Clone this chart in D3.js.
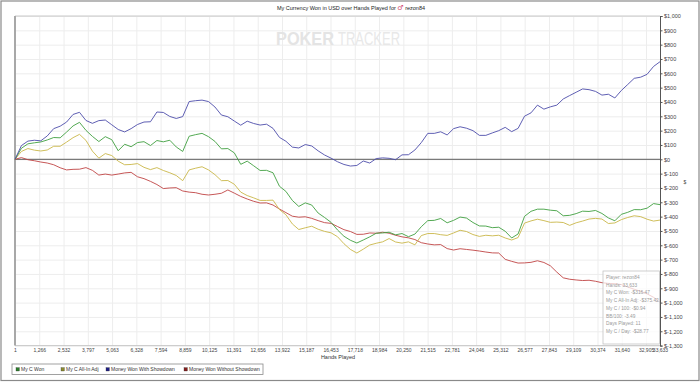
<!DOCTYPE html>
<html>
<head>
<meta charset="utf-8">
<script src="https://cdn.jsdelivr.net/npm/d3@7"></script>
<style>
  body { margin: 0; background: #fff; }
  svg text { font-family: "Liberation Sans", Arial, sans-serif; }
</style>
</head>
<body>
<svg id="chart" width="700" height="382"></svg>
<script>
// hands played (x values)
const hands = [
  1, 337, 674, 1010, 1346, 1683, 2019, 2355, 2692, 3028,
  3364, 3701, 4037, 4373, 4709, 5046, 5382, 5718, 6055, 6391,
  6727, 7064, 7400, 7736, 8073, 8409, 8745, 9082, 9418, 9754,
  10091, 10427, 10763, 11100, 11436, 11772, 12109, 12445, 12781, 13117,
  13454, 13790, 14126, 14463, 14799, 15135, 15472, 15808, 16144, 16481,
  16817, 17153, 17490, 17826, 18162, 18499, 18835, 19171, 19508, 19844,
  20180, 20517, 20853, 21189, 21525, 21862, 22198, 22534, 22871, 23207,
  23543, 23880, 24216, 24552, 24889, 25225, 25561, 25898, 26234, 26570,
  26906, 27243, 27579, 27915, 28252, 28588, 28924, 29261, 29597, 29933,
  30270, 30606, 30942, 31279, 31615, 31951, 32288, 32624, 32960, 33297,
  33633
];

// USD won
const myCWon = [
  0, 77, 108, 115, 121, 135, 152, 150, 190, 233,
  258, 202, 160, 124, 158, 137, 60, 105, 88, 117,
  123, 96, 131, 122, 133, 86, 55, 161, 172, 181,
  158, 125, 73, 75, 45, -35, -13, -45, -78, -77,
  -94, -188, -224, -287, -329, -304, -319, -375, -406, -440,
  -493, -537, -565, -584, -563, -541, -516, -514, -509, -527,
  -518, -540, -522, -470, -428, -426, -413, -443, -426, -403,
  -410, -441, -465, -466, -477, -474, -502, -549, -521, -398,
  -363, -348, -348, -355, -359, -394, -391, -379, -362, -364,
  -357, -378, -409, -429, -384, -370, -351, -352, -341, -309,
  -316.47
];

const allInAdj = [
  0, 55, 75, 64, 58, 65, 91, 91, 120, 151,
  174, 132, 57, 8, 40, 26, -13, -38, -36, -30,
  -56, -72, -58, -78, -94, -113, -149, -74, -62, -52,
  -74, -107, -149, -148, -174, -229, -253, -269, -287, -287,
  -285, -351, -387, -451, -490, -478, -467, -488, -503, -513,
  -540, -589, -629, -654, -627, -598, -586, -576, -553, -577,
  -585, -576, -597, -532, -518, -518, -526, -531, -514, -495,
  -504, -525, -538, -530, -534, -530, -549, -563, -546, -445,
  -430, -418, -428, -440, -438, -441, -461, -443, -431, -417,
  -412, -417, -448, -444, -421, -406, -394, -400, -418, -431,
  -424
];

const withShowdown = [
  0, 96, 127, 133, 129, 163, 214, 231, 260, 313,
  328, 271, 251, 270, 274, 241, 208, 191, 214, 243,
  260, 262, 330, 327, 299, 285, 298, 403, 409, 413,
  403, 365, 309, 297, 267, 238, 266, 250, 239, 245,
  216, 153, 126, 85, 79, 103, 93, 59, 30, 8,
  -17, -36, -47, -43, -12, -26, 5, 10, 7, -3,
  31, 32, 65, 117, 181, 181, 192, 170, 214, 227,
  217, 200, 167, 167, 184, 200, 223, 193, 216, 301,
  324, 378, 350, 366, 378, 421, 445, 468, 491, 486,
  474, 448, 454, 428, 480, 522, 565, 573, 593, 648,
  681
];

const withoutShowdown = [
  0, 12, -3, -10, -19, -26, -38, -59, -74, -70,
  -69, -58, -77, -110, -103, -110, -103, -95, -91, -122,
  -135, -154, -176, -204, -200, -198, -221, -229, -233, -244,
  -249, -244, -237, -214, -236, -259, -277, -293, -305, -304,
  -319, -347, -372, -397, -404, -401, -412, -428, -442, -447,
  -469, -491, -504, -524, -523, -514, -516, -509, -516, -530,
  -541, -548, -560, -582, -591, -597, -595, -623, -633, -624,
  -629, -634, -640, -647, -653, -654, -698, -712, -724, -723,
  -719, -708, -720, -743, -787, -827, -837, -842, -846, -844,
  -851, -861, -866, -868, -874, -891, -907, -921, -939, -963,
  -997
];

const xTicks = [1, 1266, 2532, 3797, 5063, 6328, 7594, 8859, 10125, 11391,
  12656, 13922, 15187, 16453, 17718, 18984, 20250, 21515, 22781, 24046,
  25312, 26577, 27843, 29109, 30374, 31640, 32905, 33633];
const yTicks = [1000, 900, 800, 700, 600, 500, 400, 300, 200, 100, 0,
  -100, -200, -300, -400, -500, -600, -700, -800, -900, -1000, -1100, -1200, -1300];

const legendNames = ['My C Won', 'My C All-In Adj', 'Money Won With Showdown', 'Money Won Without Showdown'];
const tooltipLines = ['Player: rezon84', 'Hands: 33,633', 'My C Won: -$316.47', 'My C All-In Adj: -$375.42',
  'My C / 100: -$0.94', 'BB/100: -3.49', 'Days Played: 11', 'My C / Day: -$28.77'];

const plot = { left: 15, right: 660, top: 16, bottom: 345.6 };
const svg = d3.select('#chart');

// outer frame
svg.append('rect')
  .attr('x', 1).attr('y', 1).attr('width', 698).attr('height', 379.5)
  .attr('fill', '#fff').attr('stroke', '#8a8a8a').attr('stroke-width', 1.2);

const x = d3.scaleLinear().domain([1, 33633]).range([plot.left, plot.right]);
const y = d3.scaleLinear().domain([-1300, 1000]).range([plot.bottom, plot.top]);

// grid
svg.append('g')
  .attr('transform', `translate(0,${plot.bottom})`)
  .call(d3.axisBottom(x).tickValues(xTicks.slice(1, -1)).tickSize(-(plot.bottom - plot.top)).tickFormat(''))
  .call(g => g.select('.domain').remove())
  .call(g => g.selectAll('line').attr('stroke', '#ededed'));
svg.append('g')
  .attr('transform', `translate(${plot.left},0)`)
  .call(d3.axisLeft(y).tickValues(yTicks).tickSize(-(plot.right - plot.left)).tickFormat(''))
  .call(g => g.select('.domain').remove())
  .call(g => g.selectAll('line').attr('stroke', '#ededed'));

// watermark
svg.append('text').attr('x', 276).attr('y', 45).attr('font-size', 18).attr('font-weight', 'bold')
  .attr('fill', '#e4e4e4').attr('textLength', 58).attr('lengthAdjust', 'spacingAndGlyphs').text('POKER');
svg.append('text').attr('x', 338).attr('y', 45).attr('font-size', 18)
  .attr('fill', '#e8e8e8').attr('textLength', 62).attr('lengthAdjust', 'spacingAndGlyphs').text('TRACKER');

// plot borders
svg.append('line').attr('x1', plot.left).attr('x2', plot.right).attr('y1', plot.top).attr('y2', plot.top)
  .attr('stroke', '#c8c8c8').attr('stroke-width', 1);
svg.append('line').attr('x1', plot.left).attr('x2', plot.right).attr('y1', plot.bottom).attr('y2', plot.bottom)
  .attr('stroke', '#c8c8c8').attr('stroke-width', 1);
svg.append('line').attr('x1', plot.left).attr('x2', plot.left).attr('y1', plot.top).attr('y2', plot.bottom)
  .attr('stroke', '#a8a8a8').attr('stroke-width', 2);

// zero line
svg.append('line').attr('x1', plot.left).attr('x2', plot.right).attr('y1', y(0)).attr('y2', y(0))
  .attr('stroke', '#7a7a7a').attr('stroke-width', 1.2);

// series
const line = d3.line().x((d, i) => x(hands[i])).y(d => y(d));
const series = [
  { values: withoutShowdown, color: '#c04444' },
  { values: allInAdj, color: '#c9b748' },
  { values: myCWon, color: '#3f9f3f' },
  { values: withShowdown, color: '#4d4daa' }
];
svg.append('g').selectAll('path').data(series).enter().append('path')
  .attr('d', d => line(d.values))
  .attr('fill', 'none')
  .attr('stroke', d => d.color)
  .attr('stroke-width', 0.9);

// y axis on the right
const yAxis = svg.append('g')
  .attr('transform', `translate(${plot.right},0)`)
  .call(d3.axisRight(y).tickValues(yTicks).tickSize(2.5).tickPadding(1.5)
    .tickFormat(d => '$' + (d < 0 ? '-' : '') + d3.format(',')(Math.abs(d))));
yAxis.select('.domain').attr('stroke', '#555');
yAxis.selectAll('line').attr('stroke', '#555');
yAxis.selectAll('text').attr('font-size', 5.5).attr('fill', '#444').attr('font-family', '"Liberation Sans", Arial, sans-serif');

// x axis labels
const xAxis = svg.append('g')
  .attr('transform', `translate(0,${plot.bottom})`)
  .call(d3.axisBottom(x).tickValues(xTicks).tickSize(0).tickPadding(3).tickFormat(d3.format(',')));
xAxis.select('.domain').remove();
xAxis.selectAll('text').attr('font-size', 5).attr('fill', '#444').attr('font-family', '"Liberation Sans", Arial, sans-serif');

// titles
const title = svg.append('text').attr('x', 351).attr('y', 10).attr('text-anchor', 'middle')
  .attr('font-size', 5.5).attr('fill', '#222');
title.append('tspan').text('My Currency Won in USD over Hands Played for ');
title.append('tspan').attr('fill', '#d0406a').attr('font-size', 7).attr('font-family', '"DejaVu Sans", sans-serif').text('♂');
title.append('tspan').text(' rezon84');

svg.append('text').attr('x', 338).attr('y', 359).attr('text-anchor', 'middle')
  .attr('font-size', 5.5).attr('fill', '#333').text('Hands Played');
svg.append('text').attr('x', 685).attr('y', 184).attr('text-anchor', 'middle')
  .attr('font-size', 5).attr('fill', '#444').text('$');

// tooltip
svg.append('rect').attr('x', 603).attr('y', 271).attr('width', 56.5).attr('height', 73)
  .attr('fill', '#fff').attr('fill-opacity', 0.72).attr('stroke', '#c4c4c4').attr('stroke-width', 0.8);
svg.append('g').selectAll('text').data(tooltipLines).enter().append('text')
  .attr('x', 606).attr('y', (d, i) => 279 + i * 7.7)
  .attr('font-size', 4.8).attr('fill', '#9a9a9a').text(d => d);

// legend
const legendX = [16, 61, 106, 184];
const legendColors = ['#2b7d2b', '#8a8a2e', '#1e1e84', '#841e1e'];
svg.append('rect').attr('x', 12).attr('y', 364).attr('width', 251).attr('height', 10.5)
  .attr('fill', '#fff').attr('stroke', '#8a8a8a').attr('stroke-width', 0.8);
const items = svg.append('g').selectAll('g').data(legendNames).enter().append('g')
  .attr('transform', (d, i) => `translate(${legendX[i]},369.3)`);
items.append('rect').attr('x', 0).attr('y', -1.7).attr('width', 3.4).attr('height', 3.4)
  .attr('fill', (d, i) => legendColors[i]).attr('stroke', '#333').attr('stroke-width', 0.3);
items.append('text').attr('x', 5).attr('y', 1.8).attr('font-size', 5).attr('fill', '#333').text(d => d);
</script>
</body>
</html>
